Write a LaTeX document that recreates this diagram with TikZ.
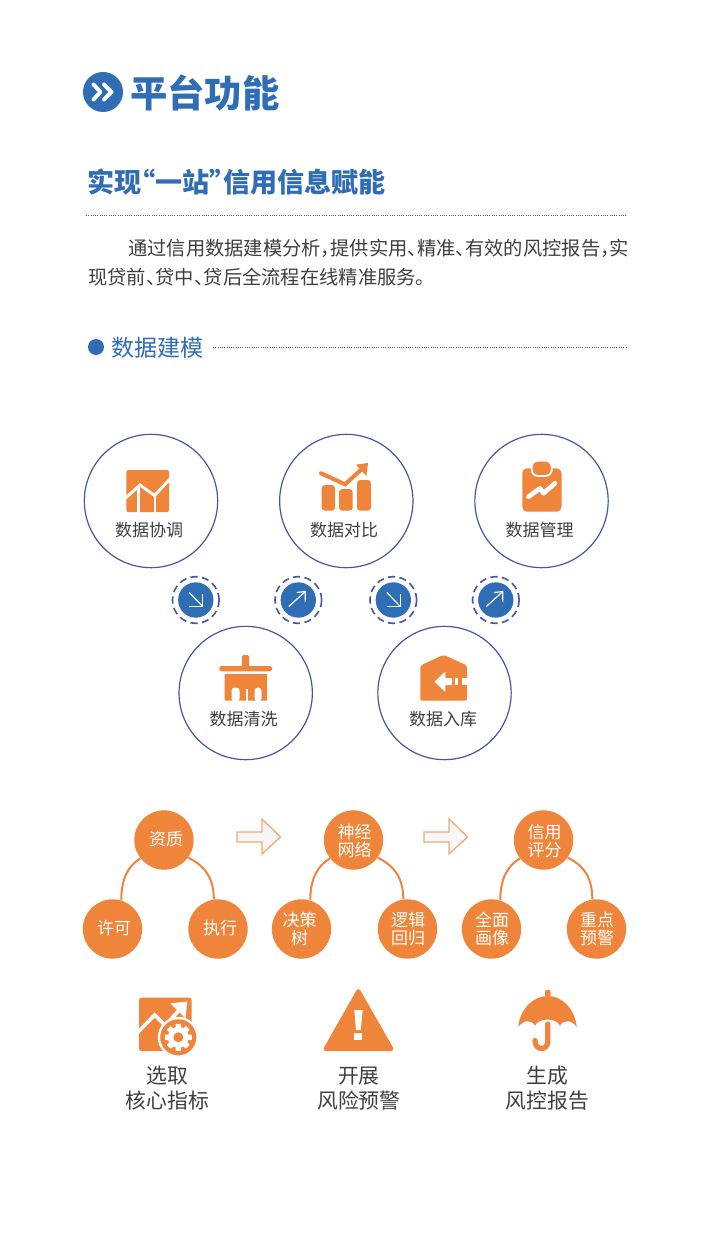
\documentclass[tikz,border=0pt]{standalone}
\usepackage{fontspec}
\setmainfont{Noto Sans CJK SC}
\newfontfamily\bodyf[RawFeature=+halt]{Noto Sans CJK SC}
\newfontfamily\headf[RawFeature=+palt]{Noto Sans CJK SC}
\definecolor{blu}{HTML}{2F6DB5}
\definecolor{org}{HTML}{EE853A}
\definecolor{ring}{HTML}{46579F}
\definecolor{txt}{HTML}{3F3F3F}
\newcommand{\fs}[1]{\fontsize{#1pt}{#1pt}\selectfont}
\tikzset{
  big/.style={circle,draw=ring,line width=0.9pt,minimum size=100pt,inner sep=0pt},
  lab/.style={inner sep=0pt,text=txt,font=\fs{12.75}},
  smallc/.style={circle,fill=blu,minimum size=26.5pt,inner sep=0pt},
  dashc/.style={circle,draw=ring,line width=1.2pt,dash pattern=on 5.4pt off 3.3pt,minimum size=35pt,inner sep=0pt},
  tree/.style={circle,fill=org,minimum size=44.5pt,inner sep=0pt},
  treelab/.style={inner sep=0pt,text=white,align=center,font=\fontsize{12.75pt}{12.9pt}\selectfont},
  link/.style={draw=org,line width=1.5pt},
  harrow/.style={draw=white,line width=0.9pt},
  bottom/.style={inner sep=0pt,text=txt,align=center,font=\fontsize{15.6pt}{18.75pt}\selectfont},
  block/.style={draw=org!70!white,fill=black!3,line width=1pt,line join=miter},
  dots/.style={draw=black!65,line width=0.55pt,dash pattern=on 0.75pt off 0.95pt},
  zig/.style={draw=white,line join=miter}
}
\begin{document}
\begin{tikzpicture}[x=0.75pt,y=-0.75pt]
\useasboundingbox (0,0) rectangle (714,1241);
\fill[white] (0,0) rectangle (714,1241);

% header
\node[circle,fill=blu,minimum size=30pt,inner sep=0pt] (badge) at (103,92) {};
\draw[white,line width=3pt,line join=round,line cap=round] (93.5,84.5)--(100.5,92)--(93.5,99.5);
\draw[white,line width=3pt,line join=round,line cap=round] (104,84.5)--(111.5,92)--(104,99.5);
\node[anchor=west,inner sep=0pt,text=blu,font=\bfseries\fs{28}] (title) at (130,93) {平台功能};
\node[anchor=west,inner sep=0pt,text=blu,font=\headf\bfseries\fs{20.3}] (sub) at (87.5,182) {实现“一站”信用信息赋能};
\draw[dots] (86,215.5)--(626,215.5);
\node[anchor=west,inner sep=0pt,text=txt,font=\bodyf\fs{14.45}] (b1) at (128,248) {通过信用数据建模分析，提供实用、精准、有效的风控报告，实};
\node[anchor=west,inner sep=0pt,text=txt,font=\bodyf\fs{14.45}] (b2) at (88,277) {现贷前、贷中、贷后全流程在线精准服务。};
\node[circle,fill=blu,minimum size=12pt,inner sep=0pt] (dot) at (96,347) {};
\node[anchor=west,inner sep=0pt,text=blu,font=\fs{17.25}] (sec) at (111.5,347.5) {数据建模};
\draw[dots] (213,347.5)--(626,347.5);

% big circles
\node[big] (c1) at (151,501) {};
\node[big] (c2) at (346.3,501) {};
\node[big] (c3) at (541.5,501) {};
\node[big] (c4) at (245.7,693) {};
\node[big] (c5) at (444.5,693) {};
\node[lab] (l1) at (149,530) {数据协调};
\node[lab] (l2) at (344,530) {数据对比};
\node[lab] (l3) at (539.5,530) {数据管理};
\node[lab] (l4) at (243.5,719) {数据清洗};
\node[lab] (l5) at (443,719) {数据入库};

% icon 1
\fill[org,rounded corners=1.5pt] (126.3,470)--(169,470)--(169,512)--(126.3,512)--cycle;
\draw[zig,line width=2.2pt] (125,498.5)--(140,485)--(154.5,495.5)--(170.5,478.5);
\draw[white,line width=1.8pt] (138.5,486)--(138.5,513);
\draw[white,line width=1.8pt] (155,496)--(155,513);
% icon 2
\fill[org,rounded corners=2.4pt] (321.7,485) rectangle (335,510.7);
\fill[org,rounded corners=2.4pt] (339,489) rectangle (352.7,510.7);
\fill[org,rounded corners=2.4pt] (357,480) rectangle (371,510.7);
\draw[org,line width=3pt,line cap=round,line join=miter] (321,473.3)--(345,484.3)--(362,469);
\fill[org] (368,463) -- (356,464.6) -- (366.3,476) -- cycle;
% icon 3
\fill[org,rounded corners=3.5pt] (522.3,468.3) rectangle (561.5,511.7);
\node[fill=org,draw=white,line width=1.4pt,rounded corners=4.6pt,minimum width=15pt,minimum height=11.5pt,inner sep=0pt] (clip) at (541.7,468.3) {};
\draw[white,line width=3.5pt,line cap=round,line join=round] (528.5,496.7)--(540,488.3)--(543.5,493.3)--(555,483.3);
% icon 4
\fill[org,rounded corners=1pt] (242,655) rectangle (249,668);
\fill[org,rounded corners=1.2pt] (219.3,666.2) rectangle (272,671.3);
\fill[org,rounded corners=0.5pt] (224.7,674) rectangle (267,700.7);
\fill[white,rounded corners=2.5pt] (231.5,701.5)--(231.5,687.5)--(239.7,687.5)--(239.7,701.5)--cycle;
\fill[white,rounded corners=2.5pt] (254.5,701.5)--(254.5,687.5)--(261.5,687.5)--(261.5,701.5)--cycle;
\draw[white,line width=1.2pt] (246.7,689)--(246.7,701);
% icon 5
\fill[org,rounded corners=1.5pt] (443.7,654.8)--(467,665.5)--(467,700.7)--(420.3,700.7)--(420.3,665.5)--cycle;
\fill[white] (434.5,681.7)--(445.3,671.5)--(445.3,678.2)--(452,678.2)--(452,685.2)--(445.3,685.2)--(445.3,692)--cycle;
\fill[white] (454.7,678.2) rectangle (458,685.2);
\fill[white] (461.5,678.2) rectangle (467.5,685.2);

% small circles
\node[smallc] (s1) at (195.8,600) {};
\node[dashc] (d1) at (195.8,600) {};
\node[smallc] (s2) at (298.3,600) {};
\node[dashc] (d2) at (298.3,600) {};
\node[smallc] (s3) at (393.3,600) {};
\node[dashc] (d3) at (393.3,600) {};
\node[smallc] (s4) at (495.8,600) {};
\node[dashc] (d4) at (495.8,600) {};
\foreach \n in {s1,s3}{
  \draw[harrow] ([shift={(-6.5,-7.5)}]\n.center)--([shift={(7,6.5)}]\n.center);
  \draw[harrow] ([shift={(-6.5,6.5)}]\n.center)--([shift={(7,6.5)}]\n.center)--([shift={(7,-6.5)}]\n.center);
}
\foreach \n in {s2,s4}{
  \draw[harrow] ([shift={(-9.5,6.5)}]\n.center)--([shift={(7,-8.5)}]\n.center);
  \draw[harrow] ([shift={(-1.5,-7.5)}]\n.center)--([shift={(7,-8.5)}]\n.center)--([shift={(7,1.5)}]\n.center);
}

% trees
\node[tree] (t1) at (164,840) {};
\node[tree] (t1a) at (112.5,929) {};
\node[tree] (t1b) at (218,929) {};
\node[tree] (t2) at (353.5,840) {};
\node[tree] (t2a) at (301.5,929) {};
\node[tree] (t2b) at (407.5,929) {};
\node[tree] (t3) at (543.5,840) {};
\node[tree] (t3a) at (491.5,929) {};
\node[tree] (t3b) at (596.5,929) {};
\foreach \p/\a/\b in {t1/t1a/t1b,t2/t2a/t2b,t3/t3a/t3b}{
  \draw[link] (\a.73) .. controls +(0,-22) and +(-12,7) .. (\p.218);
  \draw[link] (\b.98) .. controls +(0,-24) and +(14,7) .. (\p.-36);
}
\node[treelab] (tl1) at (166,839) {资质};
\node[treelab] (tl1a) at (114,928) {许可};
\node[treelab] (tl1b) at (220,928) {执行};
\node[treelab] (tl2) at (354.5,841) {神经\\网络};
\node[treelab] (tl2a) at (299.5,929) {决策\\树};
\node[treelab] (tl2b) at (408,929) {逻辑\\回归};
\node[treelab] (tl3) at (544.5,841) {信用\\评分};
\node[treelab] (tl3a) at (492,929) {全面\\画像};
\node[treelab] (tl3b) at (597,929) {重点\\预警};
% block arrows
\foreach \dx/\nm in {0/a1,187/a2}{
  \coordinate (\nm) at (237+\dx,837);
  \draw[block] (\nm) ++(0,-5)--++(25,0)--++(0,-13)--++(18.5,18)--++(-18.5,17)--++(0,-12)--++(-25,0)--cycle;
}

% bottom icons
\fill[org,rounded corners=1.8pt] (139,997.7) rectangle (191.7,1051);
\draw[zig,line width=2.7pt] (137.5,1032.5)--(154.7,1015)--(165.3,1025.5)--(181,1008);
\fill[white] (187.3,1001.5)--(170.5,1003.3)--(185.5,1018.5)--cycle;
\node[circle,fill=org,draw=white,line width=1.8pt,minimum size=29pt,inner sep=0pt] (gear) at (178.3,1037.3) {};
\foreach \a in {0,45,...,315}{
  \fill[white,rounded corners=0.5pt,rotate around={\a:(gear.center)}] ([shift={(-2.8,-13.5)}]gear.center) rectangle ([shift={(2.8,0)}]gear.center);
}
\fill[white] (gear.center) circle[radius=10.5];
\fill[org] (gear.center) circle[radius=5];
% triangle
\fill[org,rounded corners=3pt] (358.4,987)--(395,1051)--(322,1051)--cycle;
\fill[white] (354.3,1010)--(362.7,1010)--(360.7,1030)--(356,1030)--cycle;
\fill[white] (354.3,1032.7) rectangle (362.3,1040);
% umbrella
\fill[org,rounded corners=1.5pt] (545,997) -- (545,990) -- (550.7,990) -- (550.7,997) -- cycle;
\fill[org] (518.3,1027) .. controls (520,1009) and (533,996) .. (547.7,996)
  .. controls (562,996) and (575,1009) .. (576.7,1027)
  .. controls (572,1020) and (564,1019) .. (560,1025.5)
  .. controls (556,1017.5) and (539,1017.5) .. (535,1025.5)
  .. controls (531,1019) and (523,1020) .. (518.3,1027) -- cycle;
\draw[org,line width=3.9pt,line cap=round] (547.7,1024)--(547.7,1041.5) .. controls (547.7,1051) and (535,1051) .. (535,1040.5);

\node[bottom] (n1) at (167.5,1088.5) {选取\\核心指标};
\node[bottom] (n2) at (358.8,1088.5) {开展\\风险预警};
\node[bottom] (n3) at (547.3,1088.5) {生成\\风控报告};
\end{tikzpicture}
\end{document}
